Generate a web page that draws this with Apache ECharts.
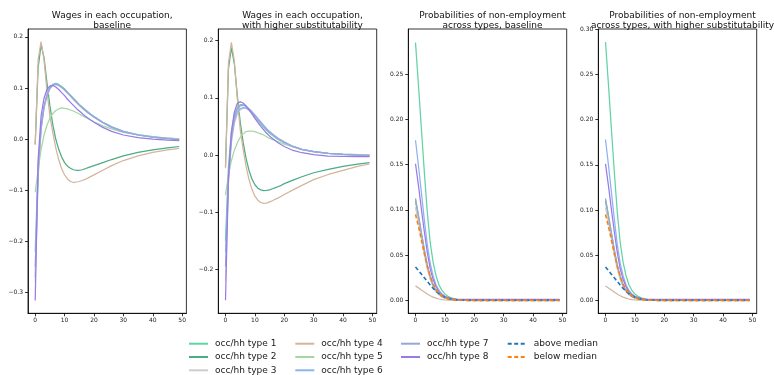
<!DOCTYPE html>
<html><head><meta charset="utf-8">
<script src="https://cdn.jsdelivr.net/npm/echarts@6/dist/echarts.min.js"></script>
<style>html,body{margin:0;padding:0;background:#fff}#c{width:774px;height:375px}</style>
</head><body><div id="c"></div>
<script>
// time steps (quarters after shock)
const steps = [0,1,2,3,4,5,6,7,8,9,10,11,12,13,14,15,16,17,18,19,20,23,26,30,35,40,45,49];
const xTicks = [0,10,20,30,40,50];
const yTicks1 = [-0.3,-0.2,-0.1,0,0.1,0.2];
const yTicks2 = [-0.2,-0.1,0,0.1,0.2];
const yTicks3 = [0,0.05,0.1,0.15,0.2,0.25];
const yTicks4 = [0,0.05,0.1,0.15,0.2,0.25,0.3];
const titles = ['Wages in each occupation,\nbaseline','Wages in each occupation,\nwith higher substitutability','Probabilities of non-employment\nacross types, baseline','Probabilities of non-employment\nacross types, with higher substitutability'];
const typeNames = ['occ/hh type 1','occ/hh type 2','occ/hh type 3','occ/hh type 4','occ/hh type 5','occ/hh type 6','occ/hh type 7','occ/hh type 8'];
const medianNames = ['above median','below median'];

// Panel 1: wages, baseline
const w1_t1 = [-0.27,-0.07,0.02,0.062,0.086,0.1,0.107,0.109,0.107,0.103,0.098,0.092,0.086,0.08,0.074,0.068,0.063,0.058,0.053,0.048,0.044,0.033,0.024,0.015,0.009,0.005,0.002,0.0005];
const w1_t2 = [-0.01,0.14,0.185,0.16,0.11,0.065,0.028,0.0,-0.02,-0.035,-0.046,-0.053,-0.057,-0.06,-0.061,-0.061,-0.06,-0.058,-0.056,-0.054,-0.052,-0.046,-0.04,-0.033,-0.026,-0.021,-0.017,-0.0145];
const w1_t3 = [-0.28,-0.075,0.018,0.06,0.084,0.098,0.105,0.107,0.105,0.101,0.096,0.09,0.084,0.078,0.072,0.066,0.061,0.056,0.051,0.047,0.043,0.032,0.023,0.015,0.008,0.004,0.002,0.0];
const w1_t4 = [-0.011,0.155,0.191,0.155,0.095,0.045,0.012,-0.017,-0.04,-0.058,-0.07,-0.078,-0.083,-0.085,-0.084,-0.083,-0.081,-0.079,-0.076,-0.073,-0.07,-0.061,-0.052,-0.042,-0.033,-0.026,-0.021,-0.018];
const w1_t5 = [-0.104,-0.06,-0.02,0.008,0.027,0.041,0.05,0.056,0.059,0.061,0.06,0.059,0.057,0.055,0.052,0.049,0.046,0.043,0.04,0.037,0.034,0.026,0.02,0.013,0.008,0.004,0.002,0.0005];
const w1_t6 = [-0.22,-0.05,0.025,0.064,0.087,0.1,0.106,0.107,0.105,0.101,0.096,0.09,0.084,0.078,0.072,0.066,0.061,0.056,0.051,0.047,0.043,0.032,0.023,0.014,0.008,0.004,0.001,-0.001];
const w1_t7 = [-0.25,-0.06,0.022,0.063,0.086,0.1,0.106,0.108,0.106,0.102,0.097,0.091,0.085,0.079,0.073,0.067,0.062,0.057,0.052,0.048,0.044,0.033,0.024,0.015,0.008,0.004,0.001,-0.001];
const w1_t8 = [-0.316,-0.04,0.045,0.08,0.097,0.104,0.105,0.102,0.097,0.091,0.085,0.078,0.072,0.066,0.06,0.055,0.05,0.045,0.041,0.037,0.033,0.023,0.015,0.008,0.003,0.0,-0.002,-0.003];

// Panel 2: wages, higher substitutability
const w2_t1 = [-0.15,-0.02,0.04,0.07,0.083,0.088,0.088,0.085,0.08,0.074,0.067,0.06,0.054,0.048,0.043,0.038,0.034,0.03,0.027,0.024,0.021,0.014,0.0095,0.006,0.003,0.0015,0.0008,0.0005];
const w2_t2 = [-0.02,0.15,0.188,0.16,0.105,0.058,0.022,-0.006,-0.027,-0.042,-0.052,-0.058,-0.061,-0.0624,-0.062,-0.061,-0.059,-0.057,-0.055,-0.053,-0.05,-0.044,-0.038,-0.031,-0.025,-0.02,-0.016,-0.0135];
const w2_t3 = [-0.22,-0.05,0.02,0.055,0.071,0.079,0.082,0.082,0.079,0.074,0.068,0.062,0.056,0.05,0.045,0.04,0.036,0.032,0.028,0.025,0.022,0.015,0.01,0.006,0.003,0.0015,0.0005,0.0];
const w2_t4 = [-0.023,0.16,0.197,0.165,0.1,0.045,0.01,-0.02,-0.043,-0.06,-0.072,-0.079,-0.083,-0.0845,-0.084,-0.082,-0.08,-0.077,-0.075,-0.072,-0.069,-0.061,-0.053,-0.043,-0.034,-0.027,-0.02,-0.0157];
const w2_t5 = [-0.07,-0.035,-0.01,0.008,0.021,0.031,0.037,0.041,0.042,0.042,0.041,0.039,0.037,0.035,0.032,0.029,0.027,0.025,0.023,0.021,0.019,0.014,0.01,0.006,0.003,0.001,0.0,-0.0005];
const w2_t6 = [-0.17,-0.035,0.028,0.06,0.075,0.081,0.083,0.082,0.079,0.074,0.068,0.062,0.056,0.05,0.045,0.04,0.036,0.032,0.028,0.025,0.022,0.015,0.01,0.006,0.003,0.001,0.0,-0.001];
const w2_t7 = [-0.195,-0.045,0.03,0.065,0.08,0.086,0.087,0.085,0.081,0.076,0.07,0.064,0.058,0.052,0.046,0.041,0.037,0.033,0.029,0.026,0.023,0.015,0.01,0.006,0.003,0.001,0.0,-0.001];
const w2_t8 = [-0.254,-0.04,0.04,0.075,0.09,0.093,0.091,0.086,0.079,0.072,0.064,0.057,0.05,0.044,0.038,0.033,0.029,0.025,0.021,0.018,0.015,0.008,0.004,0.0005,-0.002,-0.0025,-0.003,-0.003];

// Panel 3: non-employment probabilities, baseline
const p3_t1 = [0.285,0.238,0.19,0.142,0.098,0.064,0.042,0.027,0.017,0.011,0.007,0.0045,0.003,0.002,0.0012,0.0008,0.0005,0.0003,0.0002,0.0001,0.0001,0,0,0,0,0,0,0];
const p3_t2 = [0.11,0.092,0.073,0.055,0.038,0.025,0.016,0.01,0.0065,0.004,0.0026,0.0017,0.0011,0.0007,0.0004,0.0003,0.0002,0.0001,0,0,0,0,0,0,0,0,0,0];
const p3_t3 = [0.103,0.086,0.068,0.05,0.035,0.023,0.015,0.0095,0.006,0.0038,0.0024,0.0015,0.001,0.0006,0.0004,0.0002,0.0001,0,0,0,0,0,0,0,0,0,0,0];
const p3_t4 = [0.016,0.0138,0.0115,0.0092,0.007,0.0051,0.0036,0.0024,0.0015,0.0009,0.0005,0.0003,0.0002,0.0001,0,0,0,0,0,0,0,0,0,0,0,0,0,0];
const p3_t5 = [0.113,0.094,0.075,0.056,0.039,0.026,0.017,0.011,0.007,0.0045,0.0029,0.0019,0.0012,0.0008,0.0005,0.0003,0.0002,0.0001,0,0,0,0,0,0,0,0,0,0];
const p3_t6 = [0.177,0.149,0.119,0.089,0.062,0.041,0.027,0.017,0.011,0.007,0.0045,0.003,0.002,0.0014,0.001,0.0008,0.0007,0.0006,0.0006,0.0005,0.0005,0.0005,0.0005,0.0005,0.0005,0.0005,0.0005,0.0005];
const p3_t7 = [0.112,0.094,0.075,0.056,0.039,0.026,0.017,0.011,0.0072,0.0047,0.0031,0.0021,0.0015,0.0011,0.0009,0.0008,0.0007,0.0007,0.0007,0.0007,0.0007,0.0007,0.0007,0.0007,0.0007,0.0007,0.0007,0.0007];
const p3_t8 = [0.151,0.127,0.101,0.076,0.053,0.035,0.023,0.015,0.0097,0.0063,0.0042,0.003,0.0022,0.0017,0.0014,0.0012,0.0011,0.001,0.001,0.001,0.001,0.001,0.001,0.001,0.001,0.001,0.001,0.001];
const p3_above = [0.037,0.033,0.029,0.025,0.021,0.017,0.0133,0.01,0.0073,0.0051,0.0034,0.0022,0.0014,0.0009,0.0005,0.0003,0.0002,0.0001,0,0,0,0,0,0,0,0,0,0];
const p3_below = [0.095,0.082,0.067,0.052,0.038,0.027,0.018,0.012,0.008,0.005,0.0032,0.002,0.0013,0.0008,0.0005,0.0003,0.0002,0.0001,0,0,0,0,0,0,0,0,0,0];

// Panel 4: non-employment probabilities, higher substitutability
const p4_t1 = [0.286,0.239,0.19,0.142,0.098,0.064,0.042,0.027,0.017,0.011,0.007,0.0045,0.003,0.002,0.0012,0.0008,0.0005,0.0003,0.0002,0.0001,0.0001,0,0,0,0,0,0,0];
const p4_t2 = [0.11,0.092,0.073,0.055,0.038,0.025,0.016,0.01,0.0065,0.004,0.0026,0.0017,0.0011,0.0007,0.0004,0.0003,0.0002,0.0001,0,0,0,0,0,0,0,0,0,0];
const p4_t3 = [0.103,0.086,0.068,0.05,0.035,0.023,0.015,0.0095,0.006,0.0038,0.0024,0.0015,0.001,0.0006,0.0004,0.0002,0.0001,0,0,0,0,0,0,0,0,0,0,0];
const p4_t4 = [0.016,0.0138,0.0115,0.0092,0.007,0.0051,0.0036,0.0024,0.0015,0.0009,0.0005,0.0003,0.0002,0.0001,0,0,0,0,0,0,0,0,0,0,0,0,0,0];
const p4_t5 = [0.113,0.094,0.075,0.056,0.039,0.026,0.017,0.011,0.007,0.0045,0.0029,0.0019,0.0012,0.0008,0.0005,0.0003,0.0002,0.0001,0,0,0,0,0,0,0,0,0,0];
const p4_t6 = [0.178,0.15,0.12,0.09,0.062,0.041,0.027,0.017,0.011,0.007,0.0045,0.003,0.002,0.0014,0.001,0.0008,0.0007,0.0006,0.0006,0.0005,0.0005,0.0005,0.0005,0.0005,0.0005,0.0005,0.0005,0.0005];
const p4_t7 = [0.112,0.094,0.075,0.056,0.039,0.026,0.017,0.011,0.0072,0.0047,0.0031,0.0021,0.0015,0.0011,0.0009,0.0008,0.0007,0.0007,0.0007,0.0007,0.0007,0.0007,0.0007,0.0007,0.0007,0.0007,0.0007,0.0007];
const p4_t8 = [0.151,0.127,0.101,0.076,0.053,0.035,0.023,0.015,0.0097,0.0063,0.0042,0.003,0.0022,0.0017,0.0014,0.0012,0.0011,0.001,0.001,0.001,0.001,0.001,0.001,0.001,0.001,0.001,0.001,0.001];
const p4_above = [0.037,0.033,0.029,0.025,0.021,0.017,0.0133,0.01,0.0073,0.0051,0.0034,0.0022,0.0014,0.0009,0.0005,0.0003,0.0002,0.0001,0,0,0,0,0,0,0,0,0,0];
const p4_below = [0.095,0.082,0.067,0.052,0.038,0.027,0.018,0.012,0.008,0.005,0.0032,0.002,0.0013,0.0008,0.0005,0.0003,0.0002,0.0001,0,0,0,0,0,0,0,0,0,0];

const typeColors = ['#62d3a4','#4dab86','#cdcdcd','#d3b59e','#a3d9a0','#8db2f1','#98a6dc','#9a7be6'];
const medianColors = ['#1f77b4','#ff7f0e'];

const panels = [
  {types:[w1_t1,w1_t2,w1_t3,w1_t4,w1_t5,w1_t6,w1_t7,w1_t8], med:null, ymin:-0.341, ymax:0.2155, ticks:yTicks1, dec:1},
  {types:[w2_t1,w2_t2,w2_t3,w2_t4,w2_t5,w2_t6,w2_t7,w2_t8], med:null, ymin:-0.2768, ymax:0.2204, ticks:yTicks2, dec:1},
  {types:[p3_t1,p3_t2,p3_t3,p3_t4,p3_t5,p3_t6,p3_t7,p3_t8], med:[p3_above,p3_below], ymin:-0.0143, ymax:0.2999, ticks:yTicks3, dec:2},
  {types:[p4_t1,p4_t2,p4_t3,p4_t4,p4_t5,p4_t6,p4_t7,p4_t8], med:[p4_above,p4_below], ymin:-0.0143, ymax:0.3003, ticks:yTicks4, dec:2}
];
const lefts = [28, 218.3, 408.3, 598.3];
const PW = 158.4, PT = 29, PH = 284.3;
const FF = 'DejaVu Sans';

const grid=[], xAxis=[], yAxis=[], series=[], title=[];
panels.forEach((p,i)=>{
  grid.push({left:lefts[i], top:PT, width:PW, height:PH, show:true, borderColor:'#000', borderWidth:0.8, backgroundColor:'#fff'});
  title.push({text:titles[i], left:lefts[i]+PW/2, top:5, textAlign:'center',
    textStyle:{fontFamily:FF, fontSize:9, fontWeight:'normal', color:'#111', lineHeight:10.5}});
  xAxis.push({type:'value', gridIndex:i, min:-2.45, max:51.45,
    axisLine:{show:true, onZero:false, lineStyle:{color:'#000', width:0.8}},
    axisTick:{show:true, length:3, customValues:xTicks, lineStyle:{color:'#000', width:0.8}},
    axisLabel:{customValues:xTicks, fontFamily:FF, fontSize:6, color:'#222', margin:4},
    splitLine:{show:false}});
  yAxis.push({type:'value', gridIndex:i, min:p.ymin, max:p.ymax,
    axisLine:{show:true, onZero:false, lineStyle:{color:'#000', width:0.8}},
    axisTick:{show:true, length:3, customValues:p.ticks, lineStyle:{color:'#000', width:0.8}},
    axisLabel:{customValues:p.ticks, fontFamily:FF, fontSize:6, color:'#222', margin:5,
      formatter:v=>{const s=Math.abs(v).toFixed(p.dec); return v< -1e-9 ? '\u2212'+s : s;}},
    splitLine:{show:false}});
  p.types.forEach((arr,k)=>{
    series.push({type:'line', name:typeNames[k], xAxisIndex:i, yAxisIndex:i, symbol:'none', silent:true,
      data:steps.map((t,j)=>[t,arr[j]]), color:typeColors[k],
      lineStyle:{color:typeColors[k], width:1.25}});
  });
  if(p.med){
    p.med.forEach((arr,k)=>{
      series.push({type:'line', name:medianNames[k], xAxisIndex:i, yAxisIndex:i, symbol:'none', silent:true,
        data:steps.map((t,j)=>[t,arr[j]]), color:medianColors[k],
        lineStyle:{color:medianColors[k], width:1.6, type:[4,2.5]}});
    });
  }
});

const legCols = [[typeNames[0],typeNames[1],typeNames[2]],[typeNames[3],typeNames[4],typeNames[5]],[typeNames[6],typeNames[7]],medianNames];
const legLeft = [188, 294.3, 400, 506.7];
const legend = legCols.map((d,i)=>({data:d, orient:'vertical', left:legLeft[i], top:338.7, height:80, padding:0, itemWidth:19, itemHeight:8, itemGap:3.3,
  selectedMode:false, itemStyle:{color:'rgba(0,0,0,0)', borderWidth:0, opacity:0},
  textStyle:{fontFamily:FF, fontSize:9, lineHeight:10, color:'#1a1a1a', padding:[0,0,0,2]}}));

const chart = echarts.init(document.getElementById('c'), null, {renderer:'canvas'});
chart.setOption({animation:false, backgroundColor:'#fff', title, grid, xAxis, yAxis, series, legend});
</script></body></html>
